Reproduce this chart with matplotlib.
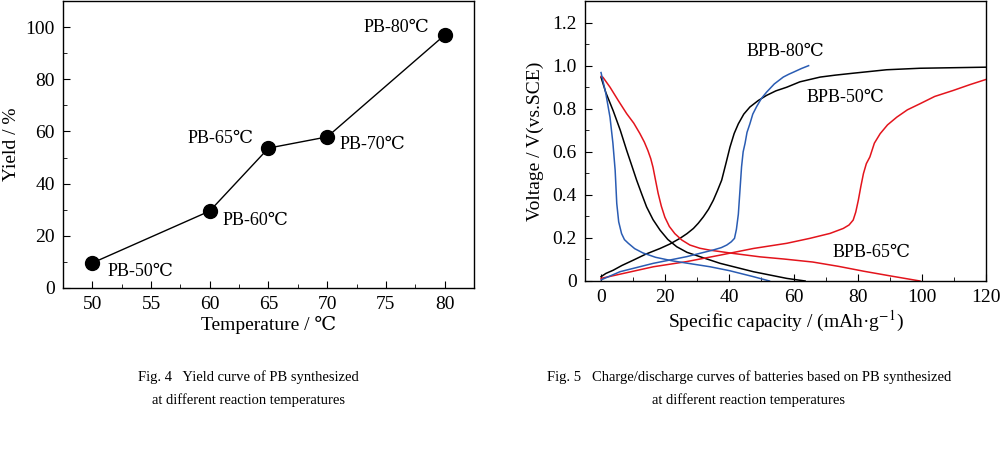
import numpy as np
import matplotlib
matplotlib.use('Agg')
from matplotlib import pyplot as plt
from matplotlib.ticker import MultipleLocator

plt.rcParams['font.family'] = ['Liberation Serif', 'DejaVu Serif', 'Noto Sans CJK SC']
plt.rcParams['mathtext.fontset'] = 'stix'

# Fig. 4 data: yield vs temperature
temps = [50, 60, 65, 70, 80]
yields = [9.6, 29.5, 53.6, 57.9, 96.9]
point_labels = ['PB-50℃', 'PB-60℃', 'PB-65℃', 'PB-70℃', 'PB-80℃']
# label offsets in pixels, alignment
label_offsets = [(15, -9, 'left'), (13, -9, 'left'), (-15, 10, 'right'), (12, -8, 'left'), (-15, 8, 'right')]

# Fig. 5 data: charge / discharge curves (capacity mAh/g, voltage V)
b50_dis_x = [0, 1.5, 3.8, 6.0, 8.0, 9.6, 11.1, 12.7, 14.2, 16.2, 18.4, 20.8, 23.6, 26.8, 30.8, 37.1, 47.5, 57.9, 63.6]
b50_dis_y = [0.946, 0.875, 0.79, 0.70, 0.606, 0.535, 0.468, 0.403, 0.344, 0.285, 0.236, 0.193, 0.159, 0.133, 0.113, 0.082, 0.043, 0.012, 0.0]
b50_chg_x = [0, 1.5, 3.8, 6.5, 10.1, 14, 18.4, 21.5, 24.6, 26.8, 28.8, 30.3, 31.9, 33.5, 35.0, 36.3, 37.6, 39.0, 40.2,
             41.5, 42.8, 44.5, 46.4, 49, 51.6, 54.5, 57.9, 62, 68.3, 73, 78.6, 89, 99.4, 120]
b50_chg_y = [0.02, 0.035, 0.05, 0.072, 0.097, 0.125, 0.151, 0.172, 0.198, 0.22, 0.244, 0.268, 0.298, 0.333, 0.375, 0.42,
             0.468, 0.55, 0.622, 0.685, 0.73, 0.775, 0.808, 0.838, 0.862, 0.883, 0.90, 0.925, 0.947, 0.956, 0.965, 0.981, 0.988, 0.993]

b65_dis_x = [0, 0.6, 2.8, 5.5, 8.0, 10.2, 12.1, 13.5, 14.6, 15.5, 16.2, 17.0, 17.8, 18.8, 19.9, 21.3, 23.0, 25.2, 27.7,
             30.8, 34.0, 41.2, 49.6, 57, 66, 74, 82, 90, 99.4]
b65_dis_y = [0.95, 0.946, 0.90, 0.835, 0.777, 0.733, 0.685, 0.645, 0.606, 0.568, 0.528, 0.467, 0.407, 0.347, 0.296, 0.253,
             0.22, 0.19, 0.167, 0.152, 0.143, 0.128, 0.112, 0.102, 0.088, 0.068, 0.045, 0.024, 0.0]
b65_chg_x = [0, 16.3, 26.7, 37.1, 47.5, 57.9, 65.1, 71.4, 75.5, 77.3, 78.6, 79.4, 80.2, 81.0, 81.8, 82.7, 83.8, 85.2,
             87, 89.3, 92.2, 95.5, 99.4, 104, 109.8, 115, 120]
b65_chg_y = [0.012, 0.066, 0.09, 0.12, 0.151, 0.175, 0.198, 0.221, 0.244, 0.26, 0.283, 0.32, 0.375, 0.44, 0.499, 0.545,
             0.576, 0.64, 0.684, 0.725, 0.761, 0.795, 0.823, 0.857, 0.885, 0.912, 0.936]

b80_dis_x = [0, 1.5, 2.8, 3.7, 4.4, 4.9, 5.5, 6.4, 7.3, 8.5, 10.5, 13.1, 17, 22.4, 28, 34, 40, 47.5, 52.5]
b80_dis_y = [0.968, 0.87, 0.76, 0.64, 0.514, 0.36, 0.275, 0.22, 0.192, 0.175, 0.15, 0.13, 0.11, 0.093, 0.08, 0.066, 0.048, 0.02, 0.0]
b80_chg_x = [0, 5.9, 16.3, 26.7, 35.0, 37.5, 39.2, 40.6, 41.6, 42.2, 42.8, 43.3, 43.8, 44.3, 44.9, 45.5, 46.4, 47.3,
             48.5, 50, 51.6, 54, 56.8, 58.5, 60, 62.5, 64.7]
b80_chg_y = [0.005, 0.043, 0.082, 0.113, 0.144, 0.155, 0.167, 0.182, 0.198, 0.24, 0.31, 0.42, 0.53, 0.6, 0.64, 0.69,
             0.73, 0.775, 0.81, 0.848, 0.877, 0.915, 0.947, 0.96, 0.97, 0.987, 1.0]

fig = plt.figure(figsize=(10, 4.5), dpi=100)

def style_axis(ax):
    ax.tick_params(which='both', direction='in', top=False, right=False, labelsize=14, pad=6)
    ax.tick_params(which='major', length=5)
    ax.tick_params(which='minor', length=3)
    for s in ax.spines.values():
        s.set_linewidth(1.0)

# ---- Fig. 4 ----
ax1 = fig.add_axes([0.063, 0.36, 0.411, 0.638])
ax1.plot(temps, yields, color='black', lw=1.0, marker='o', ms=10, mfc='black', mec='black')
for t, y, lab, (dx, dy, ha) in zip(temps, yields, point_labels, label_offsets):
    ax1.annotate(lab, (t, y), xytext=(dx, dy), textcoords='offset pixels',
                 ha=ha, va='center', fontsize=13)
ax1.set_xlim(47.5, 82.5)
ax1.set_ylim(0, 110)
ax1.xaxis.set_major_locator(MultipleLocator(5))
ax1.xaxis.set_minor_locator(MultipleLocator(2.5))
ax1.yaxis.set_major_locator(MultipleLocator(20))
ax1.yaxis.set_minor_locator(MultipleLocator(10))
style_axis(ax1)
ax1.set_xlabel('Temperature / ℃', fontsize=14, labelpad=2)
ax1.set_ylabel('Yield / %', fontsize=14, labelpad=4)

# ---- Fig. 5 ----
red = '#e3141c'
blue = '#2a5cb3'
ax2 = fig.add_axes([0.585, 0.3756, 0.401, 0.622])
ax2.plot(b50_dis_x, b50_dis_y, color='black', lw=1.1)
ax2.plot(b50_chg_x, b50_chg_y, color='black', lw=1.1)
ax2.plot(b65_dis_x, b65_dis_y, color=red, lw=1.1)
ax2.plot(b65_chg_x, b65_chg_y, color=red, lw=1.1)
ax2.plot(b80_dis_x, b80_dis_y, color=blue, lw=1.1)
ax2.plot(b80_chg_x, b80_chg_y, color=blue, lw=1.1)
ax2.text(45.5, 1.065, 'BPB-80℃', fontsize=13, va='center')
ax2.text(64.2, 0.852, 'BPB-50℃', fontsize=13, va='center')
ax2.text(72.3, 0.134, 'BPB-65℃', fontsize=13, va='center')
ax2.set_xlim(-5, 120)
ax2.set_ylim(0, 1.3)
ax2.xaxis.set_major_locator(MultipleLocator(20))
ax2.xaxis.set_minor_locator(MultipleLocator(10))
ax2.yaxis.set_minor_locator(MultipleLocator(0.1))
ax2.set_yticks([0, 0.2, 0.4, 0.6, 0.8, 1.0, 1.2])
ax2.set_yticklabels(['0', '0.2', '0.4', '0.6', '0.8', '1.0', '1.2'])
style_axis(ax2)
ax2.set_xlabel('Specific capacity / (mAh·g$^{-1}$)', fontsize=14, labelpad=2)
ax2.set_ylabel('Voltage / V(vs.SCE)', fontsize=14, labelpad=6)

# captions
cap = 10.5
fig.text(0.248, 1 - 377 / 450, 'Fig. 4   Yield curve of PB synthesized', ha='center', va='center', fontsize=cap)
fig.text(0.248, 1 - 400 / 450, 'at different reaction temperatures', ha='center', va='center', fontsize=cap)
fig.text(0.749, 1 - 377 / 450, 'Fig. 5   Charge/discharge curves of batteries based on PB synthesized', ha='center', va='center', fontsize=cap)
fig.text(0.749, 1 - 400 / 450, 'at different reaction temperatures', ha='center', va='center', fontsize=cap)

fig.savefig('out.png', dpi=100)
